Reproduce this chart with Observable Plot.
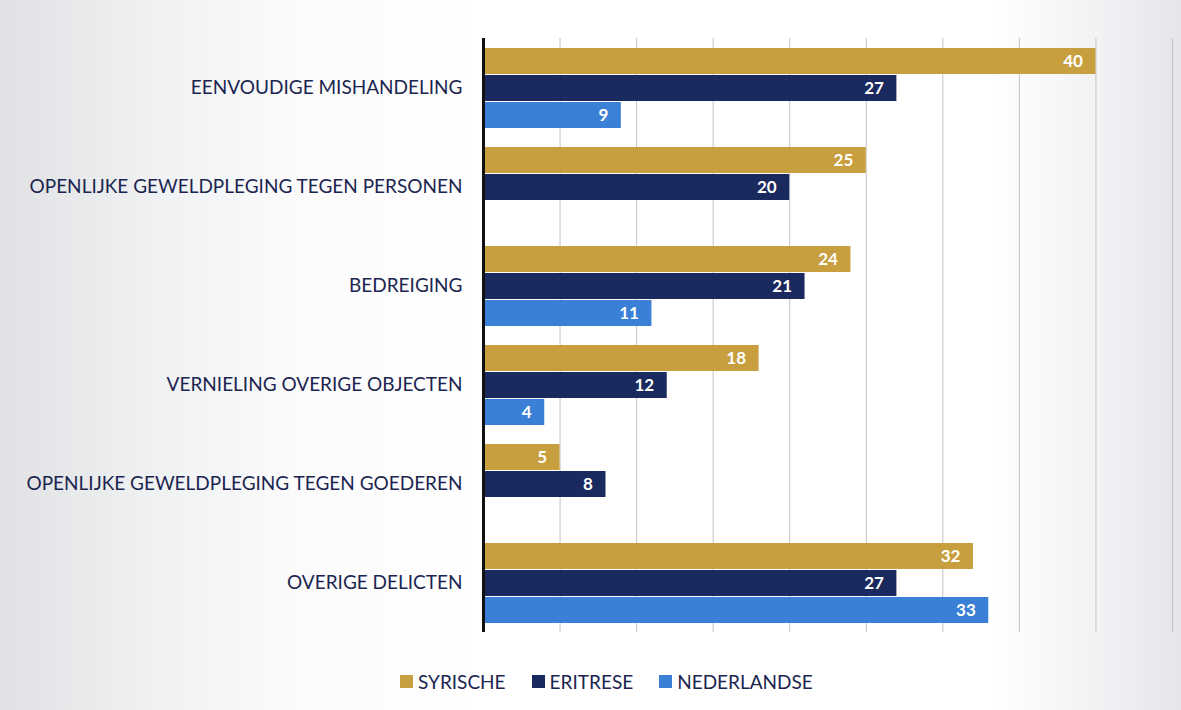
<!DOCTYPE html>
<html>
<head>
<meta charset="utf-8">
<script src="https://cdn.jsdelivr.net/npm/d3@7"></script>
<script src="https://cdn.jsdelivr.net/npm/@observablehq/plot@0.6"></script>
<style>
  html, body { margin: 0; padding: 0; }
  body {
    width: 1181px; height: 710px; overflow: hidden;
    background: linear-gradient(to right, #dfe1e4 0%, #eef0f1 12%, #fbfbfc 25%, #ffffff 40%, #ffffff 84%, #f1f2f4 93%, #e4e6e9 100%);
    font-family: Lato, "Open Sans", sans-serif;
  }
  #chart { position: absolute; left: 0; top: 0; }
  #legend {
    position: absolute; top: 670px; left: 400px;
    display: flex; gap: 26px;
    font-family: Lato, sans-serif; font-size: 19px; color: #1b2550;
  }
  #legend span.item { display: flex; align-items: center; gap: 5px; }
  #legend span.sw { width: 13px; height: 13px; display: inline-block; }
</style>
</head>
<body>
<div id="chart"></div>
<div id="legend"></div>
<script>
const categories = [
  "EENVOUDIGE MISHANDELING",
  "OPENLIJKE GEWELDPLEGING TEGEN PERSONEN",
  "BEDREIGING",
  "VERNIELING OVERIGE OBJECTEN",
  "OPENLIJKE GEWELDPLEGING TEGEN GOEDEREN",
  "OVERIGE DELICTEN"
];
const seriesNames = ["SYRISCHE", "ERITRESE", "NEDERLANDSE"];
const syrische    = [40, 25, 24, 18, 5, 32];
const eritrese    = [27, 20, 21, 12, 8, 27];
const nederlandse = [9, null, 11, 4, null, 33];
const colors = ["#c79f3e", "#1b2a5e", "#3a80d6"];
const gridTicks = [5, 10, 15, 20, 25, 30, 35, 40, 45];

const seriesValues = [syrische, eritrese, nederlandse];
const data = [];
categories.forEach((c, i) => {
  seriesNames.forEach((s, j) => {
    const v = seriesValues[j][i];
    if (v != null) data.push({category: c, series: s, value: v});
  });
});

const chart = Plot.plot({
  width: 1181,
  height: 640,
  marginLeft: 483,
  marginRight: 9,
  marginTop: 38,
  marginBottom: 8,
  style: {background: "transparent", fontFamily: "Lato, sans-serif"},
  x: {domain: [0, 45], axis: null},
  y: {domain: seriesNames, axis: null, paddingInner: 0.04, paddingOuter: 0.34},
  fy: {domain: categories, padding: 0, axis: null},
  color: {domain: seriesNames, range: colors},
  marks: [
    Plot.ruleX(gridTicks, {stroke: "#c4c4c4", strokeWidth: 1}),
    Plot.barX(data, {fy: "category", y: "series", x: "value", fill: "series"}),
    Plot.text(data, {fy: "category", y: "series", x: "value", text: d => String(d.value),
      textAnchor: "end", dx: -13, fill: "white", fontWeight: "bold", fontSize: 17}),
    Plot.ruleX([0], {stroke: "#111", strokeWidth: 3}),
    Plot.axisFy({anchor: "left", tickSize: 0, tickPadding: 21, fontSize: 19, fill: "#1b2550", label: null})
  ]
});
document.getElementById("chart").appendChild(chart);

const legend = document.getElementById("legend");
seriesNames.forEach((s, i) => {
  const item = document.createElement("span");
  item.className = "item";
  const sw = document.createElement("span");
  sw.className = "sw";
  sw.style.background = colors[i];
  item.appendChild(sw);
  item.appendChild(document.createTextNode(s));
  legend.appendChild(item);
});
</script>
</body>
</html>
